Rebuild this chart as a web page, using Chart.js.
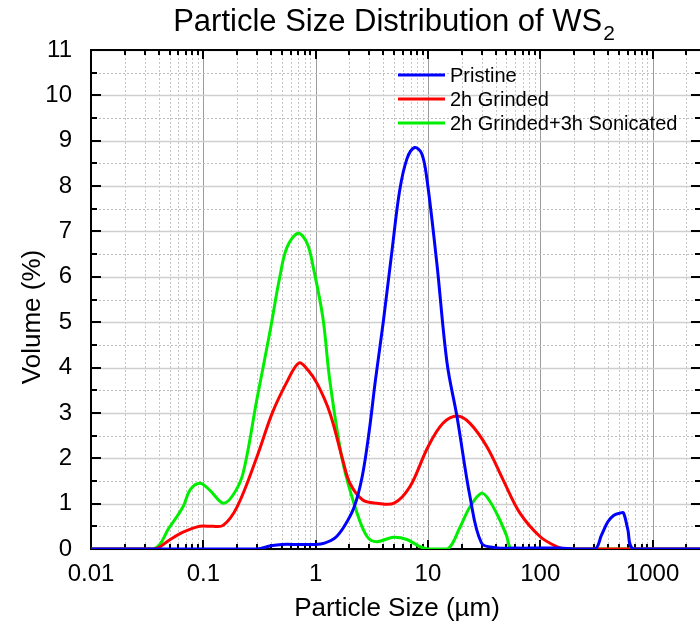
<!DOCTYPE html>
<html><head><meta charset="utf-8">
<script src="https://cdn.jsdelivr.net/npm/chart.js@4/dist/chart.umd.min.js"></script>
<style>
html,body{margin:0;padding:0;overflow:hidden;background:#fff}
#wrap{position:relative;width:701px;height:625px}
</style>
</head><body>
<div id="wrap"><canvas id="c"></canvas></div>
<script>
// ---- data ----
const seriesNames = ['Pristine', '2h Grinded', '2h Grinded+3h Sonicated'];
const seriesColors = ['#0000ff', '#ff0000', '#00ee00'];

const pristineX = [0.01, 0.3, 0.4, 0.5, 0.7, 1.0, 1.2, 1.5, 1.8, 2.2, 2.6, 3.0, 3.4, 4.0, 4.8, 5.6, 6.5, 7.6, 8.8, 9.8, 12, 14.8, 18.2, 23.7, 30, 40, 60, 100, 150, 200, 308, 350, 400, 450, 512, 550, 600, 680, 2700];
const pristineY = [0, 0, 0.07, 0.1, 0.1, 0.1, 0.13, 0.25, 0.5, 0.92, 1.6, 2.6, 3.7, 5.0, 6.6, 7.9, 8.6, 8.85, 8.72, 8.15, 6.3, 4.1, 2.9, 1.15, 0.13, 0.03, 0.02, 0.02, 0.02, 0, 0, 0.3, 0.6, 0.74, 0.79, 0.8, 0.45, 0, 0];

const grindedX = [0.01, 0.037, 0.05, 0.066, 0.093, 0.12, 0.15, 0.2, 0.3, 0.41, 0.56, 0.71, 0.85, 1.03, 1.34, 1.75, 2.02, 2.63, 3.5, 5.0, 6.9, 10, 13.6, 18.2, 23.7, 33.6, 46.8, 66, 100, 141, 170, 2700];
const grindedY = [0, 0, 0.2, 0.37, 0.5, 0.5, 0.52, 0.93, 2.03, 2.99, 3.7, 4.1, 3.95, 3.65, 3.0, 1.95, 1.45, 1.08, 1.01, 1.01, 1.37, 2.25, 2.77, 2.93, 2.77, 2.25, 1.52, 0.79, 0.27, 0.05, 0, 0];

const sonicatedX = [0.01, 0.036, 0.05, 0.066, 0.076, 0.093, 0.114, 0.15, 0.184, 0.226, 0.30, 0.39, 0.48, 0.556, 0.70, 0.84, 0.955, 1.16, 1.34, 1.75, 2.34, 2.88, 3.5, 4.9, 6.5, 8.5, 10, 15, 19.3, 23.7, 30, 35, 43.7, 50, 57, 2700];
const sonicatedY = [0, 0, 0.48, 0.93, 1.3, 1.45, 1.3, 1.01, 1.19, 1.67, 3.3, 4.76, 6.0, 6.65, 6.96, 6.74, 6.2, 5.1, 3.7, 1.9, 0.79, 0.27, 0.16, 0.26, 0.21, 0.05, 0, 0, 0.48, 0.93, 1.23, 1.08, 0.64, 0.3, 0, 0];

const xMajorTicks = [0.01, 0.1, 1, 10, 100, 1000];
const xTickLabels = ['0.01', '0.1', '1', '10', '100', '1000'];
const xMin = 0.01, xMax = 2700;
const yMin = 0, yMax = 11, yStep = 0.5;

const titleMain = 'Particle Size Distribution of WS';
const titleSub = '2';
const xTitle = 'Particle Size (\u00b5m)';
const yTitle = 'Volume (%)';

// ---- chart ----
const FONT = '"Liberation Sans", Arial, sans-serif';
const pairs = (xs, ys) => xs.map((x, i) => ({x: x, y: ys[i]}));
const seriesData = [pairs(pristineX, pristineY), pairs(grindedX, grindedY), pairs(sonicatedX, sonicatedY)];

const decorPlugin = {
  id: 'decor',
  beforeDatasetsDraw(chart) {
    const {ctx, chartArea: a, scales} = chart;
    const x = scales.x, y = scales.y;
    ctx.save();
    x.ticks.forEach(t => {
      const px = Math.round(x.getPixelForValue(t.value)) + 0.5;
      const major = xMajorTicks.includes(t.value);
      ctx.beginPath();
      ctx.setLineDash(major ? [] : [2, 2]);
      ctx.strokeStyle = major ? '#9c9c9c' : '#c6c6c6';
      ctx.lineWidth = 1;
      ctx.moveTo(px, a.top); ctx.lineTo(px, a.bottom); ctx.stroke();
    });
    y.ticks.forEach(t => {
      const py = Math.round(y.getPixelForValue(t.value)) + 0.5;
      const major = Number.isInteger(t.value);
      ctx.beginPath();
      ctx.setLineDash(major ? [] : [2, 2]);
      ctx.strokeStyle = major ? '#cfcfcf' : '#bdbdbd';
      ctx.lineWidth = major ? 1.5 : 1;
      ctx.moveTo(a.left, py); ctx.lineTo(a.right, py); ctx.stroke();
    });
    ctx.setLineDash([]);
    ctx.strokeStyle = '#000'; ctx.lineWidth = 2;
    ctx.strokeRect(a.left, a.top, a.right - a.left, a.bottom - a.top);
    ctx.lineWidth = 2;
    x.ticks.forEach(t => {
      const px = Math.round(x.getPixelForValue(t.value));
      const len = xMajorTicks.includes(t.value) ? 9 : 5;
      ctx.beginPath();
      ctx.moveTo(px, a.bottom); ctx.lineTo(px, a.bottom - len);
      ctx.moveTo(px, a.top); ctx.lineTo(px, a.top + len);
      ctx.stroke();
    });
    y.ticks.forEach(t => {
      const py = Math.round(y.getPixelForValue(t.value));
      const len = Number.isInteger(t.value) ? 10 : 6;
      ctx.beginPath();
      ctx.moveTo(a.left, py); ctx.lineTo(a.left + len, py);
      ctx.moveTo(a.right, py); ctx.lineTo(a.right - len, py);
      ctx.stroke();
    });
    ctx.restore();
  },
  afterDraw(chart) {
    const {ctx} = chart;
    ctx.save();
    ctx.fillStyle = '#000';
    ctx.font = '31px ' + FONT;
    const w1 = ctx.measureText(titleMain).width;
    ctx.font = '21px ' + FONT;
    const w2 = ctx.measureText(titleSub).width;
    const cx = 394;
    const start = cx - (w1 + w2 + 1) / 2;
    ctx.textBaseline = 'alphabetic';
    ctx.textAlign = 'left';
    ctx.font = '31px ' + FONT;
    ctx.fillText(titleMain, start, 31);
    ctx.font = '21px ' + FONT;
    ctx.fillText(titleSub, start + w1 + 1, 40);
    ctx.font = '26px ' + FONT;
    ctx.textAlign = 'center';
    ctx.fillText(xTitle, 397, 616);
    ctx.save();
    ctx.translate(40, 317);
    ctx.rotate(-Math.PI / 2);
    ctx.fillText(yTitle, 0, 0);
    ctx.restore();
    ctx.font = '20px ' + FONT;
    ctx.textAlign = 'left';
    ctx.textBaseline = 'middle';
    const rows = [75, 99, 123];
    chart.data.datasets.forEach((ds, i) => {
      ctx.strokeStyle = ds.borderColor;
      ctx.lineWidth = 3;
      ctx.beginPath();
      ctx.moveTo(398, rows[i]); ctx.lineTo(445, rows[i]);
      ctx.stroke();
      ctx.fillText(ds.label, 450, rows[i] + 1);
    });
    ctx.restore();
  }
};

new Chart(document.getElementById('c'), {
  type: 'scatter',
  data: {
    datasets: seriesNames.map((name, i) => ({
      label: name,
      data: seriesData[i],
      borderColor: seriesColors[i],
      backgroundColor: seriesColors[i],
      borderWidth: 3,
      showLine: true,
      pointRadius: 0,
      pointHoverRadius: 0,
      fill: false,
      tension: 0.35
    }))
  },
  options: {
    responsive: true,
    maintainAspectRatio: false,
    devicePixelRatio: 1,
    animation: false,
    layout: {padding: {top: 50, left: 0, right: 0, bottom: 0}},
    plugins: {legend: {display: false}, tooltip: {enabled: false}, title: {display: false}},
    scales: {
      x: {
        type: 'logarithmic',
        min: xMin, max: xMax,
        grid: {display: false},
        border: {display: false},
        afterBuildTicks(scale) {
          const list = [];
          xMajorTicks.forEach(d => {
            for (let m = 1; m <= 9; m++) {
              const v = +(d * m).toPrecision(6);
              if (v >= xMin && v <= xMax) list.push({value: v});
            }
          });
          scale.ticks = list;
        },
        afterFit(scale) { scale.height = 76; },
        ticks: {
          autoSkip: false, maxRotation: 0, minRotation: 0,
          color: '#000', font: {family: FONT, size: 24}, padding: 3,
          callback(v) {
            const i = xMajorTicks.indexOf(v);
            return i >= 0 ? xTickLabels[i] : '';
          }
        }
      },
      y: {
        min: yMin, max: yMax,
        grid: {display: false},
        border: {display: false},
        afterFit(scale) { scale.width = 91; },
        ticks: {
          stepSize: yStep, autoSkip: false,
          color: '#000', font: {family: FONT, size: 24}, padding: 11,
          callback(v) { return Number.isInteger(v) ? String(v) : ''; }
        }
      }
    }
  },
  plugins: [decorPlugin]
});
</script>
</body></html>
